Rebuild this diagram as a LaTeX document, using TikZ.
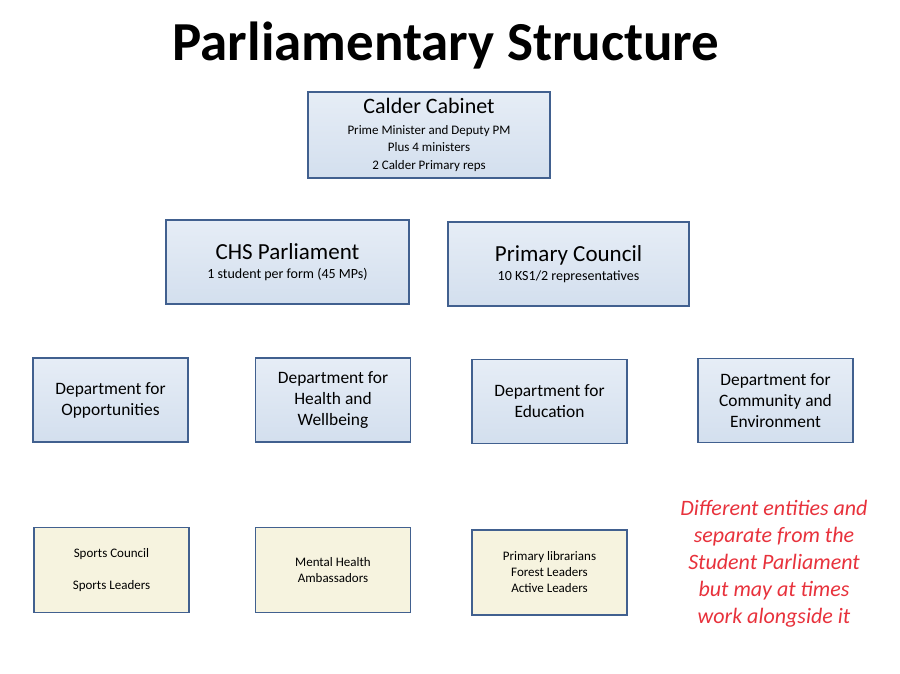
\documentclass[tikz,border=0pt]{standalone}
\usepackage{fontspec}
\setmainfont{Carlito}
\begin{document}
\begin{tikzpicture}[x=1pt,y=-1pt,
  bluebox/.style={draw=boxedge,line width=1.8pt,top color=boxtop,bottom color=boxbot,align=center,inner sep=0pt},
  yelbox/.style={draw=boxedge,line width=1.8pt,fill=yelfill,align=center,inner sep=0pt},
]
\definecolor{boxedge}{HTML}{41608F}
\definecolor{boxtop}{HTML}{E6EDF6}
\definecolor{boxbot}{HTML}{D3DFEE}
\definecolor{yelfill}{HTML}{F6F3DF}
\definecolor{notered}{HTML}{E8323C}
\useasboundingbox (0,0) rectangle (900,673);
\fill[white] (0,0) rectangle (900,673);
\node[font=\bfseries\fontsize{55}{60}\selectfont] (title) at (446,46) {Parliamentary Structure};

\node[bluebox,minimum width=242pt,minimum height=86pt,font=\fontsize{13}{17.5}\selectfont] (cab) at (429,135)
  {{\fontsize{22}{24}\selectfont Calder Cabinet}\\[3pt]
   Prime Minister and Deputy PM\\Plus 4 ministers\\2 Calder Primary reps};
\node[bluebox,minimum width=243pt,minimum height=84pt,font=\fontsize{14}{17}\selectfont] (chs) at (287.5,262)
  {{\fontsize{23}{24}\selectfont CHS Parliament}\\[2pt]
   1 student per form (45 MPs)};
\node[bluebox,minimum width=241pt,minimum height=84pt,font=\fontsize{14}{17}\selectfont] (pc) at (568.5,264)
  {{\fontsize{23}{24}\selectfont Primary Council}\\[2pt]
   10 KS1/2 representatives};

\tikzset{dept/.style={bluebox,minimum width=155pt,minimum height=84pt,font=\fontsize{17.4}{21}\selectfont}}
\node[dept] (dopp) at (110.5,400) {Department for\\Opportunities};
\node[dept] (dhw) at (333,400) {Department for\\Health and\\Wellbeing};
\node[dept] (ded) at (549.5,401.5) {Department for\\Education};
\node[dept] (dce) at (775.5,400.5) {Department for\\Community and\\Environment};

\tikzset{grp/.style={yelbox,minimum width=155pt,minimum height=85pt,font=\fontsize{13}{16}\selectfont}}
\node[grp] (sport) at (111.5,570) {Sports Council\\[16pt]Sports Leaders};
\node[grp] (mh) at (333,570) {Mental Health\\Ambassadors};
\node[grp] (prim) at (549.5,572.5) {Primary librarians\\Forest Leaders\\Active Leaders};

\node[text=notered,align=center,font=\itshape\fontsize{22}{27}\selectfont] (note) at (774,564)
  {Different entities and\\separate from the\\Student Parliament\\but may at times\\work alongside it};
\end{tikzpicture}
\end{document}
